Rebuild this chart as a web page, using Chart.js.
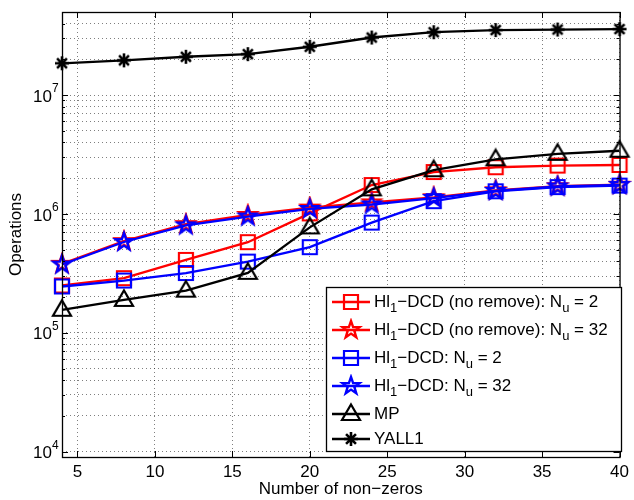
<!DOCTYPE html>
<html>
<head>
<meta charset="utf-8">
<script src="https://cdn.jsdelivr.net/npm/chart.js@4/dist/chart.umd.min.js"></script>
<style>
  body { margin: 0; background: #fff; }
  #wrap { width: 634px; height: 500px; }
</style>
</head>
<body>
<div id="wrap"><canvas id="grafica" width="634" height="500"></canvas></div>
<script>
// datos
const nonZeros = [4, 8, 12, 16, 20, 24, 28, 32, 36, 40];
const hlNoRemoveNu2 = [2.5e5, 2.88e5, 4.1e5, 5.78e5, 1.01e6, 1.75e6, 2.25e6, 2.47e6, 2.55e6, 2.58e6];
const hlNoRemoveNu32 = [3.8e5, 5.9e5, 8.2e5, 9.8e5, 1.13e6, 1.25e6, 1.38e6, 1.58e6, 1.71e6, 1.76e6];
const hlNu2 = [2.45e5, 2.75e5, 3.18e5, 3.97e5, 5.25e5, 8.45e5, 1.28e6, 1.55e6, 1.68e6, 1.73e6];
const hlNu32 = [3.75e5, 5.8e5, 8.0e5, 9.5e5, 1.1e6, 1.2e6, 1.36e6, 1.56e6, 1.7e6, 1.75e6];
const mp = [1.56e5, 1.89e5, 2.26e5, 3.19e5, 7.7e5, 1.61e6, 2.33e6, 2.88e6, 3.2e6, 3.4e6];
const yall1 = [1.85e7, 1.96e7, 2.1e7, 2.21e7, 2.55e7, 3.05e7, 3.38e7, 3.52e7, 3.56e7, 3.59e7];

const xTicks = [5, 10, 15, 20, 25, 30, 35, 40];
const yDecades = [4, 5, 6, 7];
const yMin = 9000, yMax = 5e7;

const FONT = "'Liberation Sans', Arial, Helvetica, sans-serif";
const FS = 17;

// marcadores tipo MATLAB dibujados en canvas
function marker(kind, color) {
  const c = document.createElement("canvas");
  c.width = 24; c.height = 24;
  const g = c.getContext("2d");
  const m = 12;
  g.strokeStyle = color;
  g.lineWidth = 2.2;
  g.lineJoin = "miter";
  g.beginPath();
  if (kind === "square") {
    g.rect(m - 7, m - 7, 14, 14);
  } else if (kind === "pentagram") {
    const R = 9, r = 3.6;
    for (let i = 0; i < 10; i++) {
      const a = -Math.PI / 2 + i * Math.PI / 5;
      const rad = i % 2 === 0 ? R : r;
      const px = m + rad * Math.cos(a), py = m + rad * Math.sin(a);
      i === 0 ? g.moveTo(px, py) : g.lineTo(px, py);
    }
    g.closePath();
    g.lineWidth = 2.4;
  } else if (kind === "triangle") {
    g.moveTo(m, m - 9.5);
    g.lineTo(m + 9, m + 6);
    g.lineTo(m - 9, m + 6);
    g.closePath();
  } else if (kind === "asterisk") {
    const r = 7;
    for (let i = 0; i < 4; i++) {
      const a = i * Math.PI / 4;
      g.moveTo(m - r * Math.cos(a), m - r * Math.sin(a));
      g.lineTo(m + r * Math.cos(a), m + r * Math.sin(a));
    }
    g.lineWidth = 2.6;
  }
  g.stroke();
  return c;
}

const series = [
  { label: "Hl|1|−DCD (no remove): N|u| = 2", data: hlNoRemoveNu2, color: "#ff0000", mk: "square" },
  { label: "Hl|1|−DCD (no remove): N|u| = 32", data: hlNoRemoveNu32, color: "#ff0000", mk: "pentagram" },
  { label: "Hl|1|−DCD: N|u| = 2", data: hlNu2, color: "#0000ff", mk: "square" },
  { label: "Hl|1|−DCD: N|u| = 32", data: hlNu32, color: "#0000ff", mk: "pentagram" },
  { label: "MP", data: mp, color: "#000000", mk: "triangle" },
  { label: "YALL1", data: yall1, color: "#000000", mk: "asterisk" },
];

const datasets = series.map((s, i) => ({
  label: s.label,
  data: nonZeros.map((x, k) => ({ x: x, y: s.data[k] })),
  borderColor: s.color,
  backgroundColor: s.color,
  borderWidth: 2.3,
  pointStyle: marker(s.mk, s.color),
  pointRadius: 8,
  pointHoverRadius: 8,
  tension: 0,
  clip: false,
  order: series.length - i,
}));

// texto con subíndices: "a|b|c" -> b en subíndice
function drawRich(ctx, text, x, y, size) {
  const parts = text.split("|");
  let cx = x;
  parts.forEach((p, i) => {
    const sub = i % 2 === 1;
    ctx.font = (sub ? size - 4 : size) + "px " + FONT;
    ctx.fillText(p, cx, sub ? y + 6 : y);
    cx += ctx.measureText(p).width;
  });
}

const ejesMatlab = {
  id: "ejesMatlab",
  afterDraw(chart) {
    const ctx = chart.ctx;
    const a = chart.chartArea;
    const ys = chart.scales.y, xs = chart.scales.x;
    ctx.save();
    // marco
    ctx.strokeStyle = "#000";
    ctx.lineWidth = 1.3;
    ctx.strokeRect(a.left + 0.5, a.top + 0.5, a.right - a.left, a.bottom - a.top);
    // marcas hacia dentro
    ctx.lineWidth = 1;
    ctx.beginPath();
    xTicks.forEach(v => {
      const px = Math.round(xs.getPixelForValue(v)) + 0.5;
      ctx.moveTo(px, a.bottom); ctx.lineTo(px, a.bottom - 6);
      ctx.moveTo(px, a.top); ctx.lineTo(px, a.top + 6);
    });
    ys.ticks.forEach(t => {
      const py = Math.round(ys.getPixelForValue(t.value)) + 0.5;
      const len = t.major ? 6 : 3;
      ctx.moveTo(a.left, py); ctx.lineTo(a.left + len, py);
      ctx.moveTo(a.right, py); ctx.lineTo(a.right - len, py);
    });
    ctx.stroke();
    // etiquetas del eje y: 10^n
    ctx.fillStyle = "#000";
    ctx.textBaseline = "middle";
    yDecades.forEach(n => {
      const py = ys.getPixelForValue(Math.pow(10, n));
      ctx.font = FS + "px " + FONT;
      ctx.textAlign = "right";
      const expW = 7;
      ctx.fillText("10", a.left - 3 - expW, py + 2);
      ctx.font = "12px " + FONT;
      ctx.textAlign = "left";
      ctx.fillText(String(n), a.left - 3 - expW, py - 6);
    });
    // leyenda
    const bx = 326, by = 287, bw = 295, bh = 164;
    ctx.fillStyle = "#fff";
    ctx.fillRect(bx, by, bw, bh);
    ctx.strokeStyle = "#000";
    ctx.lineWidth = 1.3;
    ctx.strokeRect(bx + 0.5, by + 0.5, bw, bh);
    const rowY = [302, 330, 358, 386, 414, 439];
    chart.data.datasets.forEach((ds, i) => {
      const y = rowY[i];
      ctx.strokeStyle = ds.borderColor;
      ctx.lineWidth = 2.3;
      ctx.beginPath();
      ctx.moveTo(332, y); ctx.lineTo(370, y);
      ctx.stroke();
      const img = ds.pointStyle;
      ctx.drawImage(img, 351 - img.width / 2, y - img.height / 2);
      ctx.fillStyle = "#000";
      ctx.textAlign = "left";
      ctx.textBaseline = "middle";
      drawRich(ctx, ds.label, 374, y, FS);
    });
    ctx.restore();
  },
};

new Chart(document.getElementById("grafica").getContext("2d"), {
  type: "line",
  data: { datasets: datasets },
  options: {
    responsive: false,
    animation: false,
    layout: { padding: { left: 0, right: 9, top: 12, bottom: 0 } },
    plugins: { legend: { display: false }, tooltip: { enabled: false } },
    scales: {
      x: {
        type: "linear",
        min: 4,
        max: 40,
        afterBuildTicks: s => { s.ticks = xTicks.map(v => ({ value: v })); },
        afterFit: s => { s.height = 43; },
        grid: { color: "rgba(0,0,0,0.5)", lineWidth: 1, drawTicks: false },
        border: { display: false, dash: [1, 3] },
        ticks: { color: "#000", font: { family: FONT, size: FS }, padding: 5, maxRotation: 0, autoSkip: false },
        title: { display: true, text: "Number of non−zeros", color: "#000", font: { family: FONT, size: FS }, padding: { top: 0, bottom: 0 } },
      },
      y: {
        type: "logarithmic",
        min: yMin,
        max: yMax,
        afterBuildTicks: s => {
          const t = [];
          for (let n = 3; n <= 7; n++) {
            for (let k = 1; k <= 9; k++) {
              const v = k * Math.pow(10, n);
              if (v > yMin && v < yMax) t.push({ value: v, major: k === 1 });
            }
          }
          s.ticks = t;
        },
        afterFit: s => { s.width = 62; },
        grid: { color: "rgba(0,0,0,0.5)", lineWidth: 1, drawTicks: false },
        border: { display: false, dash: [1, 3] },
        ticks: { display: false, autoSkip: false },
        title: { display: true, text: "Operations", color: "#000", font: { family: FONT, size: FS }, padding: { top: 6, bottom: 0 } },
      },
    },
  },
  plugins: [ejesMatlab],
});
</script>
</body>
</html>
